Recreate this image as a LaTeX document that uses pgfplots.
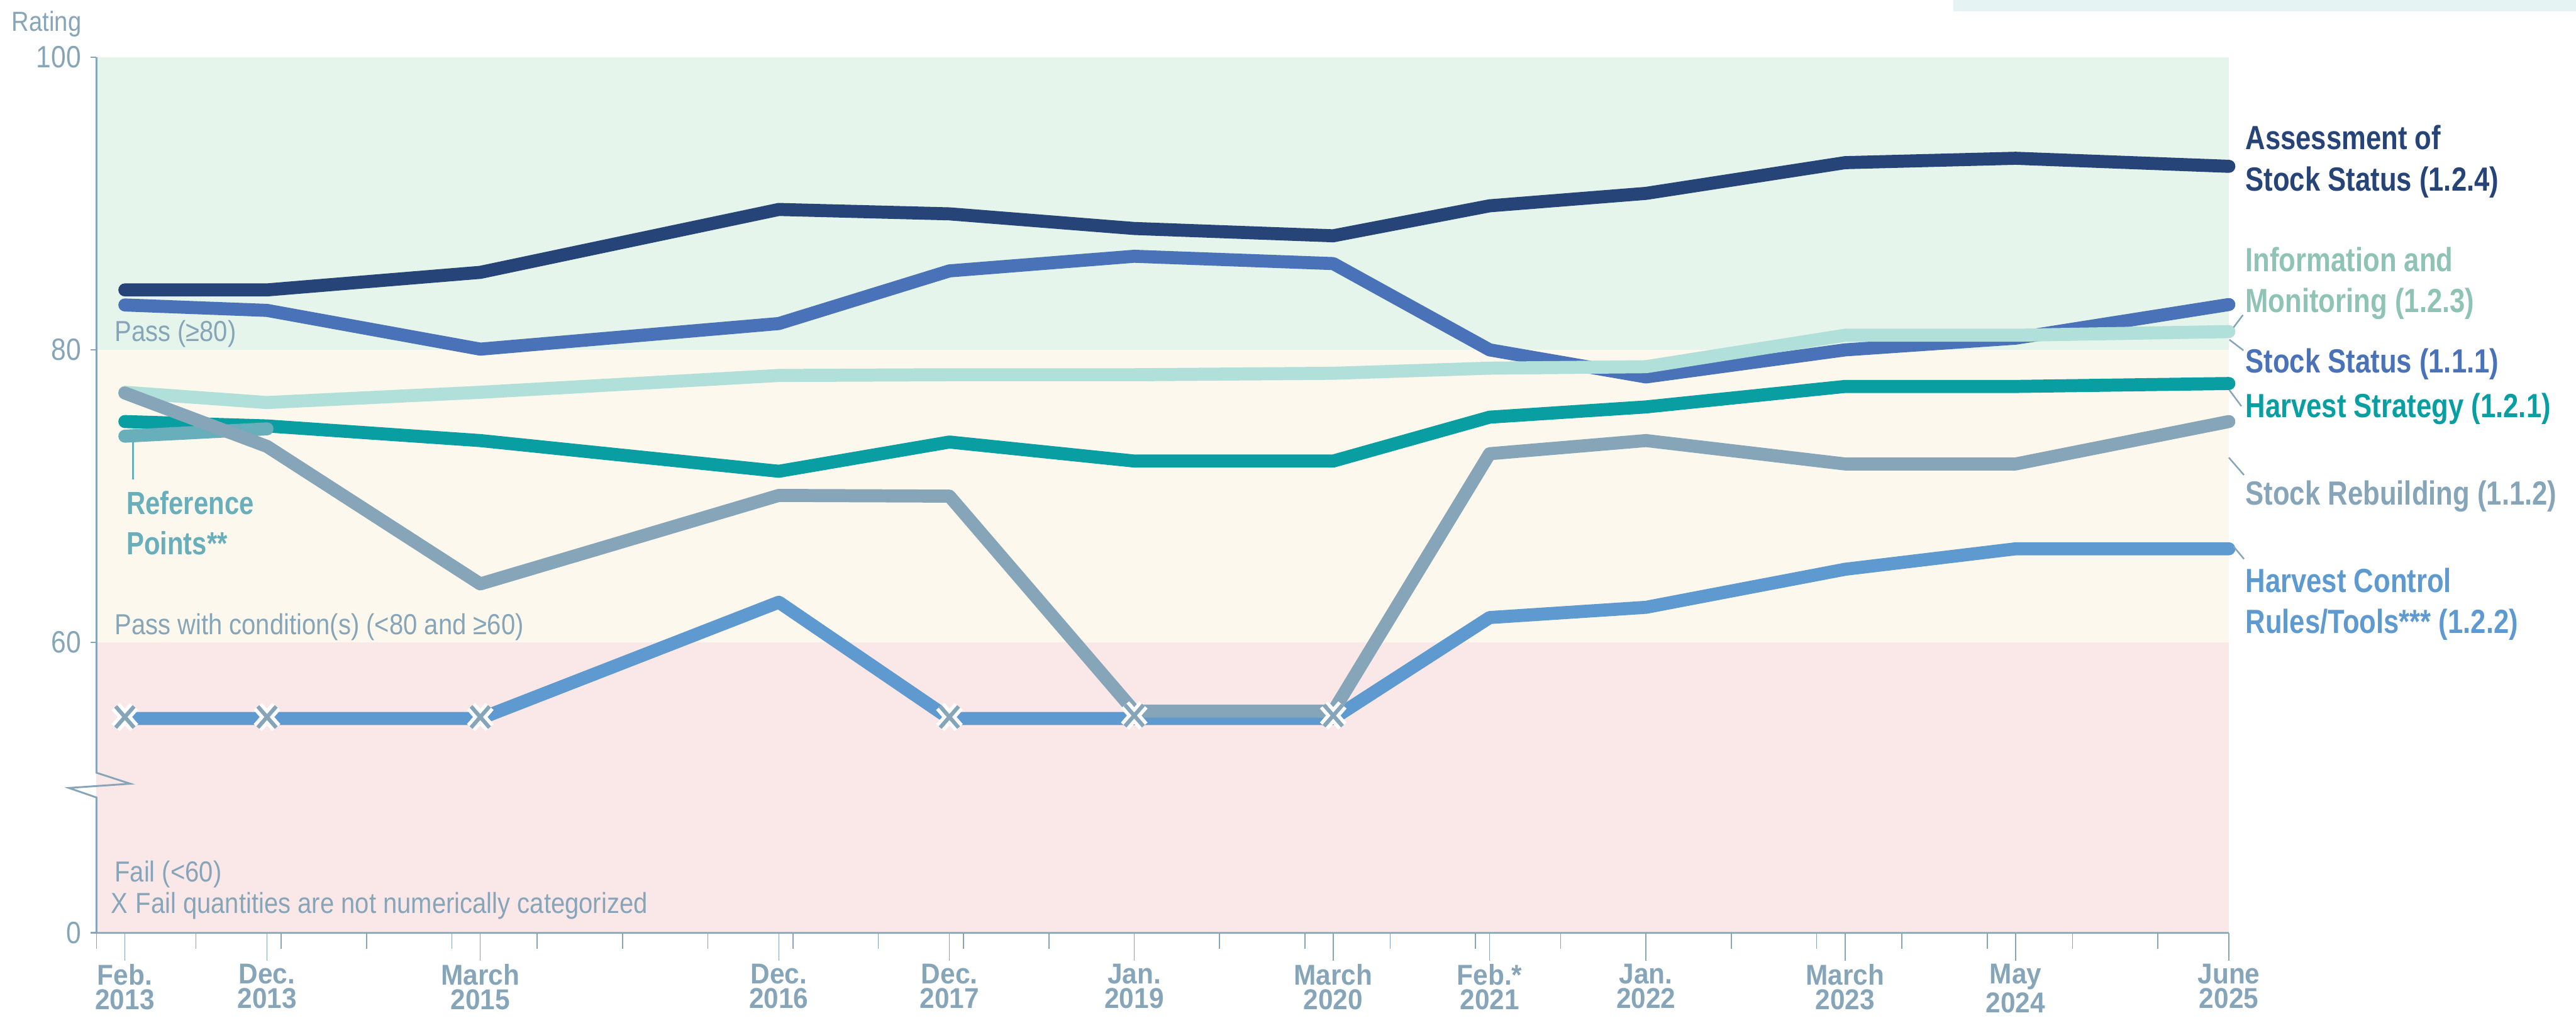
\documentclass[border=0pt]{standalone}
\usepackage{fontspec}
\usepackage{pgfplots}
\usepackage{pgfplotstable}
\pgfplotsset{compat=1.18}
\setmainfont{Liberation Sans}
\newfontfamily\lc{Liberation Sans}[FakeStretch=0.87]
\newfontfamily\bc{Liberation Sans}[FakeStretch=0.82]
\newfontfamily\xc{Liberation Sans}[FakeStretch=0.93]
\definecolor{navy}{HTML}{264478}
\definecolor{sstat}{HTML}{4A72B8}
\definecolor{info}{HTML}{B1DFD9}
\definecolor{infolab}{HTML}{8FC3B6}
\definecolor{hstrat}{HTML}{089EA2}
\definecolor{refpt}{HTML}{68AEBB}
\definecolor{srebuild}{HTML}{87A5B8}
\definecolor{hcr}{HTML}{5E9AD0}
\definecolor{axisgray}{HTML}{87A5B8}
\definecolor{bandgreen}{HTML}{E5F5EC}
\definecolor{bandcream}{HTML}{FCF8EE}
\definecolor{bandpink}{HTML}{FAE8E8}
\definecolor{strip}{HTML}{E5F3F2}

\pgfplotstableread{
date a ss info hs sr hcr
1   84.1  83.07 77.1  75.1 77.05 54.8
11  84.1  82.7  76.4  74.8 73.4  54.8
26  85.3  80.05 77.1  73.8 64.0  54.8
47  89.6  81.8  78.25 71.7 70.05 62.75
59  89.3  85.4  78.3  73.7 70.0  54.8
72  88.3  86.4  78.3  72.4 55.3  54.8
86  87.8  85.9  78.4  72.4 55.3  54.8
97  89.85 80.0  78.75 75.4 72.9  61.7
108 90.7  78.15 78.85 76.1 73.8  62.4
122 92.8  80.0  81.0  77.5 72.2  65.0
134 93.1  80.8  81.0  77.5 72.2  66.4
149 92.55 83.1  81.25 77.7 75.1  66.4
}\data

\begin{document}
\begin{tikzpicture}
\useasboundingbox (-37pt,-32.4pt) rectangle (951.4pt,357.8pt);
\fill[strip] (712.6pt,353.4pt) rectangle (951.4pt,357.8pt);
\begin{axis}[
  scale only axis, width=818.2pt, height=335.8pt,
  at={(0pt,0pt)}, anchor=south west,
  xmin=-1, xmax=149, ymin=40.14, ymax=100,
  clip=false,
  axis x line*=bottom, axis y line*=left,
  axis line style={draw=none},
  tick align=outside,
  major tick length=10.8pt,
  minor tick length=6pt,
  xtick={1,11,26,47,59,72,86,97,108,122,134,149},
  xticklabels={{Feb.\\2013},{Dec.\\2013},{March\\2015},{Dec.\\2016},{Dec.\\2017},{Jan.\\2019},{March\\2020},{Feb.*\\2021},{Jan.\\2022},{March\\2023},{May\\2024},{June\\2025}},
  minor xtick={-1,6,12,18,24,30,36,42,48,54,60,66,72,78,84,90,96,102,108,114,120,126,132,138,144},
  xticklabel style={align=center, font=\xc\bfseries\fontsize{11}{9.4}\selectfont, text=axisgray, inner sep=1pt},
  xtick style={draw=axisgray, line width=0.4pt},
  ytick={40.14,60,80,100},
  yticklabels={\mbox{0},\mbox{60},\mbox{80},\mbox{100}},
  ytick style={draw=axisgray, line width=0.6pt, /pgfplots/major tick length=2.2pt},
  yticklabel style={font=\lc\fontsize{11.8}{13}\selectfont, text=axisgray, xshift=8.4pt},
  every axis plot/.append style={line width=5pt, line cap=round, line join=round},
]
\fill[bandgreen] (axis cs:-1,80) rectangle (axis cs:149,100);
\fill[bandcream] (axis cs:-1,60) rectangle (axis cs:149,80);
\fill[bandpink] (axis cs:-1,40.14) rectangle (axis cs:149,60);

\addplot[navy, mark=none] table[x=date,y=a]{\data};
\addplot[sstat, mark=none] table[x=date,y=ss]{\data};
\addplot[info, mark=none] table[x=date,y=info]{\data};
\addplot[hstrat, mark=none] table[x=date,y=hs]{\data};
\addplot[refpt, mark=none] coordinates {(1,74.1) (11,74.6)};
\addplot[hcr, mark=none] table[x=date,y=hcr]{\data};
\addplot[srebuild, mark=none] table[x=date,y=sr]{\data};

\addplot[only marks, mark=x, mark size=5pt,
  mark options={draw=white, line width=4.2pt, line cap=butt, yscale=1.15}]
  coordinates {(1,54.9) (11,54.9) (26,54.9) (59,54.9) (72,55.0) (86,55.0)};
\addplot[only marks, mark=x, mark size=5pt,
  mark options={draw=axisgray, line width=1.5pt, line cap=butt, yscale=1.15}]
  coordinates {(1,54.9) (11,54.9) (26,54.9) (59,54.9) (72,55.0) (86,55.0)};

\draw[axisgray, line width=0.7pt] (axis cs:-1,100) -- (axis cs:-1,51.09) -- (axis cs:1.38,50.34) -- (axis cs:-2.94,50.05) -- (axis cs:-1,49.4) -- (axis cs:-1,40.14) -- (axis cs:149,40.14);
\end{axis}

% left texts
\node[anchor=base east, inner sep=0pt, text=axisgray, font=\lc\fontsize{10.6}{12}\selectfont] at (-5.6pt,345.8pt) {Rating};
\begin{scope}[every node/.style={anchor=base west, inner sep=0pt, text=axisgray, font=\lc\fontsize{11.1}{13}\selectfont}]
\node at (6.8pt,226.8pt) {Pass (≥80)};
\node at (6.8pt,114.4pt) {Pass with condition(s) (<80 and ≥60)};
\node at (6.8pt,19.6pt) {Fail (<60)};
\node at (5.4pt,7.6pt) {X\hspace{3pt}Fail quantities are not numerically categorized};
\end{scope}

% reference points label
\draw[refpt, line width=0.6pt] (14pt,188.6pt) -- (14pt,173.8pt);
\begin{scope}[every node/.style={anchor=base west, inner sep=0pt, text=refpt, font=\bc\bfseries\fontsize{12.3}{14}\selectfont}]
\node at (11.4pt,160.5pt) {Reference};
\node at (11.4pt,145.1pt) {Points**};
\end{scope}

% right labels
\begin{scope}[every node/.style={anchor=base west, inner sep=0pt, font=\bc\bfseries\fontsize{12.85}{15.8}\selectfont}]
\node[text=navy] at (824.4pt,300.4pt) {Assessment of};
\node[text=navy] at (824.4pt,284.6pt) {Stock Status (1.2.4)};
\node[text=infolab] at (824.4pt,253.7pt) {Information and};
\node[text=infolab] at (824.4pt,238pt) {Monitoring (1.2.3)};
\node[text=sstat] at (824.4pt,214.8pt) {Stock Status (1.1.1)};
\node[text=hstrat] at (824.4pt,197.6pt) {Harvest Strategy (1.2.1)};
\node[text=srebuild] at (824.4pt,164.2pt) {Stock Rebuilding (1.1.2)};
\node[text=hcr] at (824.4pt,130.6pt) {Harvest Control};
\node[text=hcr] at (824.4pt,115.0pt) {Rules/Tools*** (1.2.2)};
\end{scope}
\begin{scope}[axisgray, line width=0.6pt]
\draw (820pt,232.2pt) -- (823.6pt,237pt);
\draw (818.4pt,227.5pt) -- (823.8pt,223.4pt);
\draw (818.4pt,208.2pt) -- (823pt,202pt);
\draw (818.2pt,182.3pt) -- (824pt,175.6pt);
\draw (820pt,148.2pt) -- (824pt,143.4pt);
\end{scope}
\end{tikzpicture}
\end{document}
